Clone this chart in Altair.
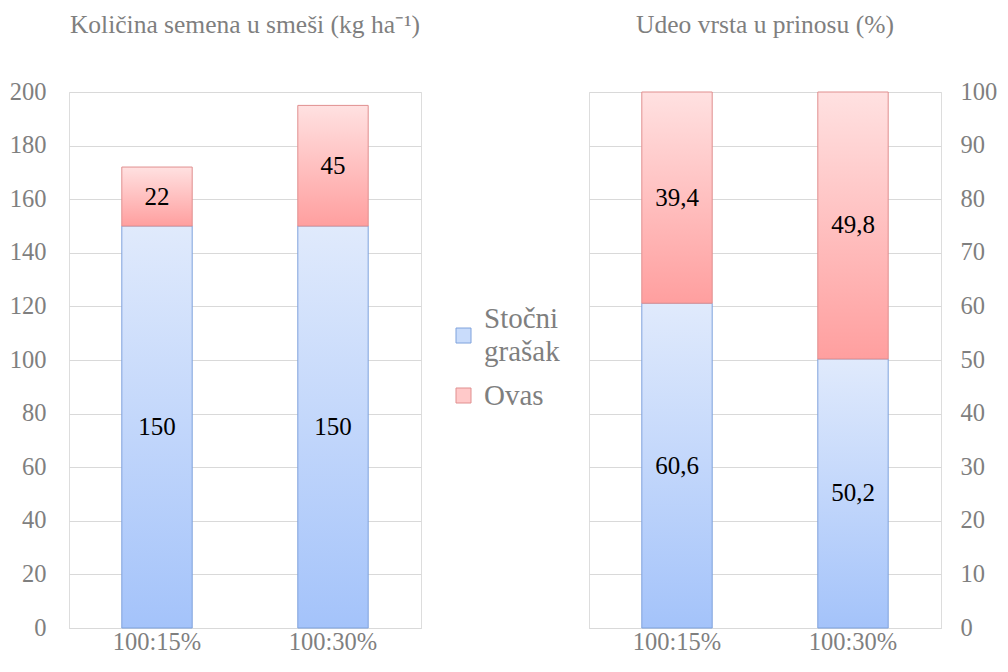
import altair as alt
import pandas as pd

# ---- data ----
mixes = ["100:15%", "100:30%"]
species = ["Stočni grašak", "Ovas"]
seed_pea = [150, 150]
seed_oat = [22, 45]
share_pea = [60.6, 50.2]
share_oat = [39.4, 49.8]

FONT = "Liberation Serif, Times New Roman, serif"
GRAY = "#7f7f7f"
GRID = "#d9d9d9"

blue_grad = alt.Gradient(
    gradient="linear", x1=0, y1=0, x2=0, y2=1,
    stops=[alt.GradientStop(offset=0, color="#e0eafc"),
           alt.GradientStop(offset=1, color="#a4c3fa")])
red_grad = alt.Gradient(
    gradient="linear", x1=0, y1=0, x2=0, y2=1,
    stops=[alt.GradientStop(offset=0, color="#ffe1e1"),
           alt.GradientStop(offset=1, color="#ff9f9f")])
BLUE_STROKE = "#7fa2dc"
RED_STROKE = "#e08f8f"

# legend symbol shapes (first one nudged down to sit beside its two-line label)
SQUARE_LOW = "M-1,1.27H1V3.27H-1Z"
SQUARE = "M-1,-1H1V1H-1Z"


def make_df(pea, oat):
    rows = []
    for i, m in enumerate(mixes):
        rows.append({"mix": m, "species": species[0], "order": 0, "value": pea[i]})
        rows.append({"mix": m, "species": species[1], "order": 1, "value": oat[i]})
    return pd.DataFrame(rows)


def panel(df, title, ymax, step, orient, label_expr, with_legend):
    base = alt.Chart(df).transform_stack(
        stack="value", groupby=["mix"], sort=[alt.SortField("order")], as_=["v0", "v1"]
    ).transform_calculate(mid="(datum.v0 + datum.v1) / 2", lbl=label_expr)

    x = alt.X("mix:N", sort=mixes,
              scale=alt.Scale(paddingInner=0.6, paddingOuter=0.3),
              axis=alt.Axis(title=None, labelAngle=0, ticks=False, domain=True,
                            domainColor=GRID, labelFont=FONT, labelFontSize=24.5,
                            labelColor=GRAY, labelPadding=2, grid=False))
    y = alt.Y("v1:Q", title=None,
              scale=alt.Scale(domain=[0, ymax], nice=False),
              axis=alt.Axis(values=list(range(0, ymax + 1, step)), orient=orient,
                            domain=False, ticks=False, grid=True, gridColor=GRID,
                            labelFont=FONT, labelFontSize=24.5, labelColor=GRAY,
                            labelPadding=23 if orient == "left" else 19))
    y2 = alt.Y2("v0:Q")

    pea = base.transform_filter(alt.datum.order == 0).mark_bar(
        fill=blue_grad, stroke=BLUE_STROKE, strokeWidth=1).encode(x=x, y=y, y2=y2)
    oat = base.transform_filter(alt.datum.order == 1).mark_bar(
        fill=red_grad, stroke=RED_STROKE, strokeWidth=1).encode(x=x, y=y, y2=y2)
    text = base.mark_text(font=FONT, fontSize=25, color="black", baseline="middle").encode(
        x=alt.X("mix:N", sort=mixes), y=alt.Y("mid:Q"), text="lbl:N")

    layers = [pea, oat, text]
    if with_legend:
        leg = alt.Legend(title=None, orient="none", legendX=380, legendY=212,
                         symbolSize=225, symbolOpacity=1,
                         symbolStrokeWidth=1, labelFont=FONT, labelFontSize=29,
                         labelColor=GRAY, labelOffset=6, rowPadding=14,
                         labelLimit=300, labelBaseline="middle",
                         labelExpr="datum.label == 'Stočni grašak' ? ['Stočni', 'grašak'] : datum.label")
        legend_layer = base.mark_point(filled=True, opacity=0).encode(
            x=alt.X("mix:N", sort=mixes), y=alt.Y("v1:Q"),
            fill=alt.Fill("species:N", scale=alt.Scale(domain=species, range=["#c9dcfb", "#ffc9c9"]), legend=leg),
            stroke=alt.Stroke("species:N", scale=alt.Scale(domain=species, range=[BLUE_STROKE, RED_STROKE]), legend=leg),
            shape=alt.Shape("species:N", scale=alt.Scale(domain=species, range=[SQUARE_LOW, SQUARE]), legend=leg))
        layers.append(legend_layer)

    return alt.layer(*layers).properties(
        width=352, height=536,
        title=alt.TitleParams(title, font=FONT, fontSize=25.5, color=GRAY,
                              fontWeight="normal", frame="group", anchor="middle",
                              offset=41))


left = panel(make_df(seed_pea, seed_oat), "Količina semena u smeši (kg ha⁻¹)", 200, 20,
             "left", "format(datum.value, 'd')", True)
right = panel(make_df(share_pea, share_oat), "Udeo vrsta u prinosu (%)", 100, 10,
              "right", "replace(format(datum.value, '.1f'), '.', ',')", False)

chart = alt.hconcat(left, right, spacing=27).resolve_scale(
    x="independent", y="independent", fill="independent", stroke="independent",
    shape="independent"
).resolve_legend(fill="independent", stroke="independent", shape="independent").properties(
    padding={"left": 0, "right": 0, "top": 4, "bottom": 0}
).configure_view(stroke=None).configure(
    background="white", style={"guide-label": {"lineHeight": 33}})

chart.save("out.html", embed_options={"renderer": "svg", "actions": False})
